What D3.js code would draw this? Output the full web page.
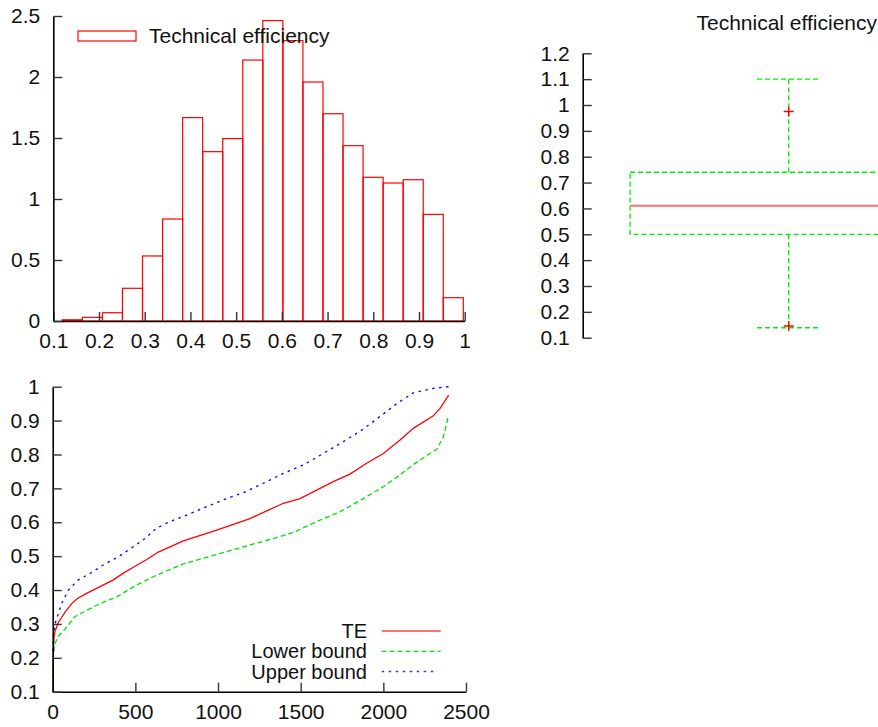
<!DOCTYPE html>
<html>
<head>
<meta charset="utf-8">
<script src="https://cdn.jsdelivr.net/npm/d3@7/dist/d3.min.js"></script>
<style>
  html, body { margin: 0; padding: 0; background: #fff; }
  svg { display: block; }
  text { font-family: "Liberation Sans", Arial, Helvetica, sans-serif; fill: #111; }
</style>
</head>
<body>
<svg id="chart" width="878" height="727"></svg>
<script>
// ---- Histogram of technical efficiency (density) ----
const histLow = 0.1197;
const histHigh = 0.997;
const histDensity = [0.01, 0.03, 0.068, 0.268, 0.533, 0.836, 1.667, 1.388, 1.495, 2.139,
                     2.462, 2.298, 1.959, 1.699, 1.437, 1.178, 1.131, 1.158, 0.874, 0.191];
const histXTicks = [0.1, 0.2, 0.3, 0.4, 0.5, 0.6, 0.7, 0.8, 0.9, 1];
const histYTicks = [0, 0.5, 1, 1.5, 2, 2.5];

// ---- Box plot summary ----
const boxStats = { lowWhisker: 0.1385, q1: 0.5, median: 0.61, q3: 0.74, highWhisker: 1.1 };
const boxOutliers = [0.975, 0.145];
const boxYTicks = [0.1, 0.2, 0.3, 0.4, 0.5, 0.6, 0.7, 0.8, 0.9, 1, 1.1, 1.2];

// ---- Sorted efficiency scores with bounds ----
const teRank  = [0, 3, 8, 15, 35, 75, 115, 150, 205, 286, 367, 427, 498, 569, 639, 790, 992, 1193, 1395, 1496, 1697, 1798, 1899, 2000, 2101, 2181, 2302, 2343, 2395];
const teValue = [0.14, 0.21, 0.26, 0.28, 0.305, 0.335, 0.36, 0.375, 0.39, 0.41, 0.43, 0.45, 0.47, 0.49, 0.512, 0.545, 0.577, 0.611, 0.656, 0.67, 0.72, 0.742, 0.774, 0.803, 0.843, 0.877, 0.914, 0.936, 0.975];
const lowerRank  = [0, 2, 5, 12, 35, 75, 100, 130, 165, 286, 387, 508, 629, 790, 992, 1193, 1335, 1456, 1597, 1738, 1859, 2000, 2101, 2181, 2282, 2323, 2363, 2395];
const lowerValue = [0.1, 0.18, 0.21, 0.24, 0.265, 0.285, 0.3, 0.32, 0.33, 0.36, 0.38, 0.415, 0.444, 0.477, 0.505, 0.533, 0.552, 0.57, 0.602, 0.631, 0.664, 0.705, 0.74, 0.77, 0.803, 0.815, 0.852, 0.916];
const upperRank  = [0, 5, 14, 54, 95, 155, 226, 306, 397, 488, 558, 629, 710, 810, 931, 1052, 1153, 1274, 1395, 1516, 1647, 1758, 1879, 1990, 2081, 2181, 2302, 2395];
const upperValue = [0.22, 0.27, 0.3, 0.36, 0.4, 0.43, 0.449, 0.474, 0.498, 0.528, 0.552, 0.583, 0.602, 0.621, 0.646, 0.67, 0.687, 0.715, 0.744, 0.769, 0.806, 0.838, 0.875, 0.916, 0.95, 0.982, 0.995, 1.0];
const rankXTicks = [0, 500, 1000, 1500, 2000, 2500];
const rankYTicks = [0.1, 0.2, 0.3, 0.4, 0.5, 0.6, 0.7, 0.8, 0.9, 1];

const legendLabels = ["TE", "Lower bound", "Upper bound"];
const histLegend = "Technical efficiency";
const boxTitle = "Technical efficiency";

const svg = d3.select("#chart");
const FONT = 21;
const LEGEND_FONT = 20;
const TICK = 9;

function styleAxis(g) {
  g.select(".domain").attr("stroke", "#000").attr("stroke-width", 1.6);
  g.selectAll(".tick line").attr("stroke", "#333").attr("stroke-width", 1.4);
  g.selectAll(".tick text").attr("font-size", FONT).attr("fill", "#111")
    .style("font-family", '"Liberation Sans", Arial, sans-serif');
}

// ================= Histogram =================
{
  const x = d3.scaleLinear().domain([0.1, 1]).range([53.3, 464.7]);
  const y = d3.scaleLinear().domain([0, 2.5]).range([321, 16]);
  const binW = (histHigh - histLow) / histDensity.length;
  const bins = histDensity.map((d, i) => ({ x0: histLow + i * binW, x1: histLow + (i + 1) * binW, v: d }));

  svg.append("g").selectAll("rect").data(bins).join("rect")
    .attr("x", d => x(d.x0)).attr("width", d => x(d.x1) - x(d.x0))
    .attr("y", d => y(d.v)).attr("height", d => y(0) - y(d.v))
    .attr("fill", "none").attr("stroke", "#f00").attr("stroke-width", 1.2);

  svg.append("g").attr("transform", `translate(0,${y(0)})`)
    .call(d3.axisBottom(x).tickValues(histXTicks).tickFormat(d => String(d))
      .tickSize(-TICK).tickSizeOuter(0).tickPadding(12))
    .call(styleAxis);
  svg.append("g").attr("transform", `translate(${x(0.1)},0)`)
    .call(d3.axisLeft(y).tickValues(histYTicks).tickFormat(d => String(d))
      .tickSize(-TICK).tickSizeOuter(0).tickPadding(13))
    .call(styleAxis);

  // legend
  svg.append("rect").attr("x", 78).attr("y", 31).attr("width", 58).attr("height", 10)
    .attr("fill", "none").attr("stroke", "#f00").attr("stroke-width", 1.2);
  svg.append("text").attr("x", 149).attr("y", 43).attr("font-size", FONT).text(histLegend);
}

// ================= Box plot =================
{
  const y = d3.scaleLinear().domain([0.1, 1.2]).range([337.7, 53.3]);
  const x = d3.scaleLinear().domain([0.5, 1.5]).range([582.7, 994.7]);
  const halfBox = 0.385, halfCap = 0.077;
  const green = "#00ee00";
  const g = svg.append("g");
  const dash = "5,3";

  g.append("rect").attr("x", x(1 - halfBox)).attr("width", x(1 + halfBox) - x(1 - halfBox))
    .attr("y", y(boxStats.q3)).attr("height", y(boxStats.q1) - y(boxStats.q3))
    .attr("fill", "none").attr("stroke", green).attr("stroke-width", 1.3).attr("stroke-dasharray", dash);
  g.append("line").attr("x1", x(1)).attr("x2", x(1)).attr("y1", y(boxStats.q3)).attr("y2", y(boxStats.highWhisker))
    .attr("stroke", green).attr("stroke-width", 1.3).attr("stroke-dasharray", dash);
  g.append("line").attr("x1", x(1)).attr("x2", x(1)).attr("y1", y(boxStats.q1)).attr("y2", y(boxStats.lowWhisker))
    .attr("stroke", green).attr("stroke-width", 1.3).attr("stroke-dasharray", dash);
  [boxStats.highWhisker, boxStats.lowWhisker].forEach(v => {
    g.append("line").attr("x1", x(1 - halfCap)).attr("x2", x(1 + halfCap)).attr("y1", y(v)).attr("y2", y(v))
      .attr("stroke", green).attr("stroke-width", 1.3).attr("stroke-dasharray", dash);
  });
  g.append("line").attr("x1", x(1 - halfBox)).attr("x2", x(1 + halfBox))
    .attr("y1", y(boxStats.median)).attr("y2", y(boxStats.median))
    .attr("stroke", "#ff7070").attr("stroke-width", 2);
  boxOutliers.forEach(v => {
    g.append("path").attr("d", `M${x(1) - 5},${y(v)}h10M${x(1)},${y(v) - 5}v10`)
      .attr("stroke", "#f00").attr("stroke-width", 1.4).attr("fill", "none");
  });

  svg.append("g").attr("transform", `translate(${x(0.5)},0)`)
    .call(d3.axisLeft(y).tickValues(boxYTicks).tickFormat(d => String(d))
      .tickSize(-TICK).tickSizeOuter(0).tickPadding(13))
    .call(styleAxis);

  svg.append("text").attr("x", 877).attr("y", 30).attr("text-anchor", "end")
    .attr("font-size", FONT).text(boxTitle);
}

// ================= Sorted efficiencies =================
{
  const x = d3.scaleLinear().domain([0, 2500]).range([52.7, 466]);
  const y = d3.scaleLinear().domain([0.1, 1]).range([691.7, 386.7]);
  const line = d3.line().x(d => x(d[0])).y(d => y(d[1]));
  const series = [
    { pts: d3.zip(teRank, teValue), color: "#ff0000", dash: null, w: 1.3 },
    { pts: d3.zip(lowerRank, lowerValue), color: "#00e000", dash: "5,3", w: 1.3 },
    { pts: d3.zip(upperRank, upperValue), color: "#0000ff", dash: "2.5,4.5", w: 1.3 }
  ];
  series.forEach(s => {
    svg.append("path").attr("d", line(s.pts)).attr("fill", "none")
      .attr("stroke", s.color).attr("stroke-width", s.w)
      .attr("stroke-dasharray", s.dash);
  });

  svg.append("g").attr("transform", `translate(0,${y(0.1)})`)
    .call(d3.axisBottom(x).tickValues(rankXTicks).tickFormat(d => String(d))
      .tickSize(-TICK).tickSizeOuter(0).tickPadding(12))
    .call(styleAxis);
  svg.append("g").attr("transform", `translate(${x(0)},0)`)
    .call(d3.axisLeft(y).tickValues(rankYTicks).tickFormat(d => String(d))
      .tickSize(-TICK).tickSizeOuter(0).tickPadding(13))
    .call(styleAxis);

  // legend
  const legendStyles = [
    { color: "#ff7070", dash: null, w: 2, x2: 440.7 },
    { color: "#00ee00", dash: "5,3", w: 1.3, x2: 440.7 },
    { color: "#3333ff", dash: "2.5,4.5", w: 1.5, x2: 437 }
  ];
  legendLabels.forEach((lab, i) => {
    const ly = 631 + i * 20.3;
    svg.append("text").attr("x", 367).attr("y", ly + 7).attr("text-anchor", "end")
      .attr("font-size", LEGEND_FONT).text(lab);
    svg.append("line").attr("x1", 381.7).attr("x2", legendStyles[i].x2).attr("y1", ly).attr("y2", ly)
      .attr("stroke", legendStyles[i].color).attr("stroke-width", legendStyles[i].w)
      .attr("stroke-dasharray", legendStyles[i].dash);
  });
}
</script>
</body>
</html>
